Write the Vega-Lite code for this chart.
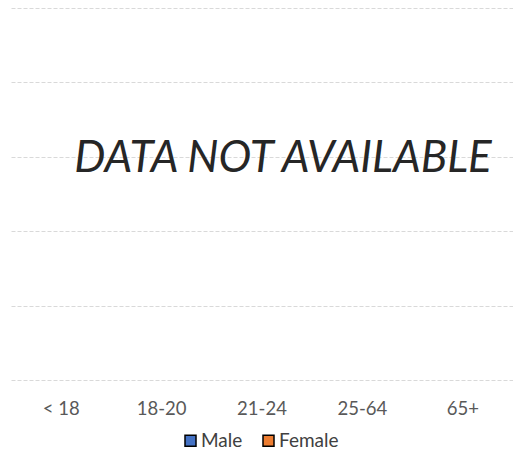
{
  "$schema": "https://vega.github.io/schema/vega-lite/v6.json",
  "autosize": "none",
  "width": 502,
  "height": 372,
  "padding": {"left": 11, "top": 8, "right": 0, "bottom": 72},
  "background": "white",
  "config": {
    "view": {"stroke": null},
    "font": "Lato"
  },
  "layer": [
    {
      "data": {
        "values": [
          {"age": "< 18", "gender": "Male", "value": null},
          {"age": "< 18", "gender": "Female", "value": null},
          {"age": "18-20", "gender": "Male", "value": null},
          {"age": "18-20", "gender": "Female", "value": null},
          {"age": "21-24", "gender": "Male", "value": null},
          {"age": "21-24", "gender": "Female", "value": null},
          {"age": "25-64", "gender": "Male", "value": null},
          {"age": "25-64", "gender": "Female", "value": null},
          {"age": "65+", "gender": "Male", "value": null},
          {"age": "65+", "gender": "Female", "value": null}
        ]
      },
      "mark": {"type": "bar"},
      "encoding": {
        "x": {
          "field": "age", "type": "nominal",
          "sort": ["< 18", "18-20", "21-24", "25-64", "65+"],
          "scale": {"domain": ["< 18", "18-20", "21-24", "25-64", "65+"], "paddingInner": 0, "paddingOuter": 0},
          "axis": {
            "title": null, "labelAngle": 0, "domain": false, "ticks": false, "tickSize": 0,
            "labelFont": "Lato", "labelFontSize": 18.5, "labelColor": "#595959",
            "labelPadding": 34, "labelBaseline": "alphabetic", "grid": false
          }
        },
        "xOffset": {"field": "gender", "type": "nominal", "scale": {"domain": ["Male", "Female"]}},
        "y": {
          "field": "value", "type": "quantitative",
          "scale": {"domain": [0, 5], "nice": false, "zero": true},
          "axis": {
            "title": null, "labels": false, "ticks": false, "domain": false,
            "values": [0, 1, 2, 3, 4, 5],
            "grid": true, "gridColor": "#D9D9D9", "gridDash": [4, 2], "gridWidth": 1
          }
        },
        "color": {
          "field": "gender", "type": "nominal",
          "scale": {"domain": ["Male", "Female"], "range": ["#4472C4", "#ED7D31"]},
          "legend": {
            "title": null, "orient": "none", "legendX": 170, "legendY": 423, "direction": "horizontal",
            "padding": 0,
            "symbolType": "square", "symbolSize": 121, "symbolStrokeColor": "#000000",
            "symbolStrokeWidth": 1.5, "symbolOpacity": 1,
            "labelFont": "Lato", "labelFontSize": 19, "labelColor": "#404040",
            "labelOffset": 1, "columnPadding": 16
          }
        }
      }
    },
    {
      "data": {"values": [{"msg": "DATA NOT AVAILABLE"}]},
      "mark": {
        "type": "text", "font": "Lato", "fontStyle": "italic", "fontSize": 44,
        "color": "#262626", "baseline": "middle", "align": "center", "dx": 21, "dy": 2
      },
      "encoding": {
        "x": {"datum": "21-24"},
        "y": {"datum": 3},
        "text": {"field": "msg"}
      }
    }
  ]
}
